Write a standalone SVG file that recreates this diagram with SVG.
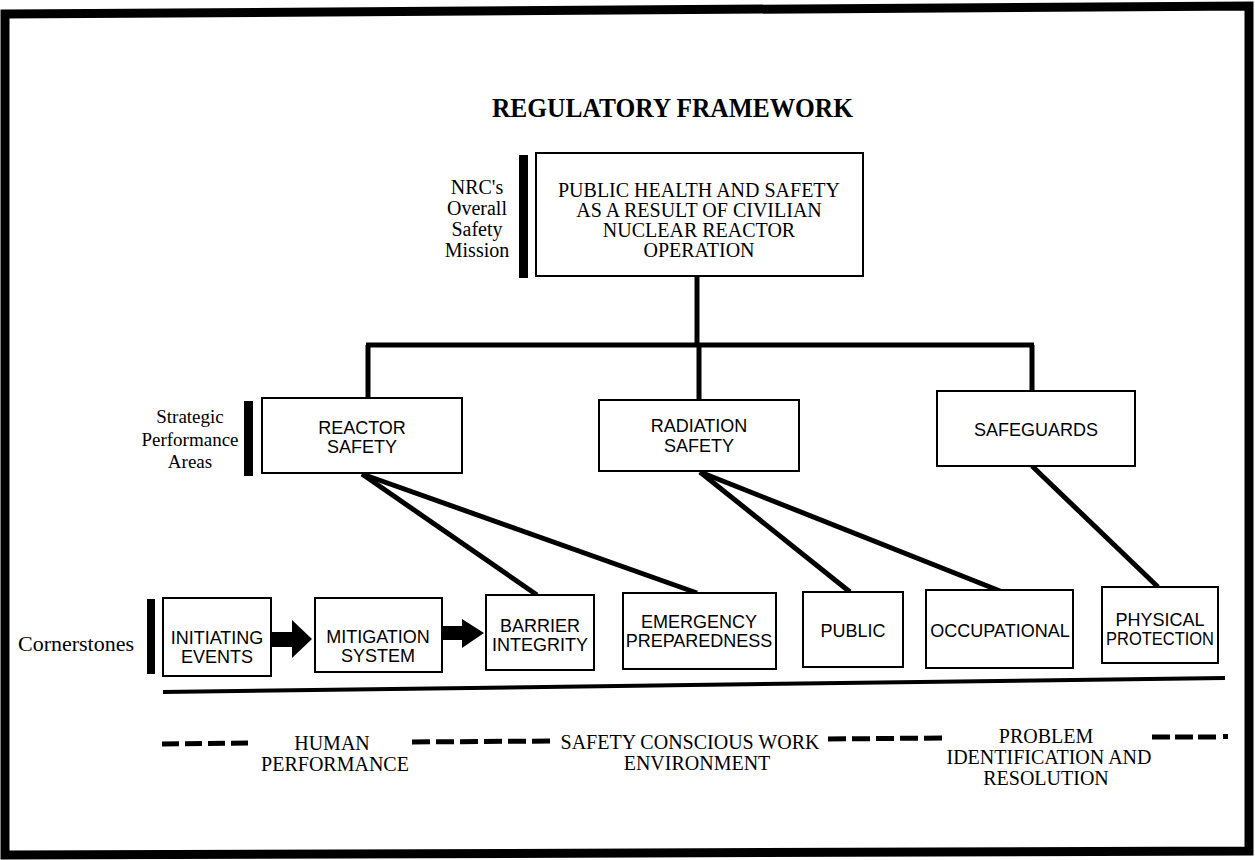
<svg xmlns="http://www.w3.org/2000/svg" width="1255" height="860" viewBox="0 0 1255 860">
<style>
.box{fill:#fff;stroke:#000;stroke-width:2}
.bar{fill:#000}
.serif{font-family:"Liberation Serif","Times New Roman",serif;fill:#000}
.sans{font-family:"Liberation Sans",Arial,sans-serif;fill:#000;font-size:18px;text-anchor:middle}
.conn{stroke:#000;stroke-width:5;fill:none;stroke-linecap:butt}
.dash{stroke:#000;stroke-width:5;fill:none}
.lbl{font-size:20px;text-anchor:middle}
</style>
<rect width="1255" height="860" fill="#fff"/>
<polygon points="5,14 1249,6 1249,851 5,855" fill="none" stroke="#000" stroke-width="9"/>

<text class="serif" x="492" y="117" font-size="28" font-weight="bold" textLength="361" lengthAdjust="spacingAndGlyphs">REGULATORY FRAMEWORK</text>

<g id="connectors">
  <line class="conn" x1="697" y1="276" x2="697" y2="347"/>
  <line class="conn" x1="366" y1="345" x2="1034" y2="345"/>
  <line class="conn" x1="368" y1="345" x2="368" y2="398"/>
  <line class="conn" x1="699" y1="345" x2="699" y2="400"/>
  <line class="conn" x1="1032" y1="345" x2="1032" y2="391"/>
  <line class="conn" x1="362" y1="474" x2="537" y2="595"/>
  <line class="conn" x1="362" y1="474" x2="697" y2="593"/>
  <line class="conn" x1="700" y1="472" x2="850" y2="592"/>
  <line class="conn" x1="700" y1="472" x2="1000" y2="591"/>
  <line class="conn" x1="1032" y1="466" x2="1158" y2="587"/>
  <polygon points="271,632 292,632 292,620 312,639 292,658 292,647 271,647" fill="#000"/>
  <polygon points="442,626 462,626 462,619 484,633 462,648 462,640 442,640" fill="#000"/>
</g>

<g id="mission-label">
  <rect class="bar" x="519" y="155" width="9" height="123"/>
  <text class="serif lbl" font-size="21"><tspan x="477" y="194">NRC's</tspan><tspan x="477" y="215">Overall</tspan><tspan x="477" y="236">Safety</tspan><tspan x="477" y="257">Mission</tspan></text>
</g>

<g id="mission">
  <rect class="box" x="536" y="153" width="327" height="123"/>
  <text class="serif lbl"><tspan x="699" y="197">PUBLIC HEALTH AND SAFETY</tspan><tspan x="699" y="217">AS A RESULT OF CIVILIAN</tspan><tspan x="699" y="237">NUCLEAR REACTOR</tspan><tspan x="699" y="257">OPERATION</tspan></text>
</g>

<g id="spa-label">
  <rect class="bar" x="244" y="401" width="9" height="75"/>
  <text class="serif" font-size="19" text-anchor="middle"><tspan x="190" y="423">Strategic</tspan><tspan x="190" y="446">Performance</tspan><tspan x="190" y="468">Areas</tspan></text>
</g>

<g id="reactor-safety">
  <rect class="box" x="262" y="398" width="200" height="75"/>
  <text class="sans"><tspan x="362" y="434">REACTOR</tspan><tspan x="362" y="453">SAFETY</tspan></text>
</g>

<g id="radiation-safety">
  <rect class="box" x="599" y="400" width="200" height="71"/>
  <text class="sans"><tspan x="699" y="432">RADIATION</tspan><tspan x="699" y="452">SAFETY</tspan></text>
</g>

<g id="safeguards">
  <rect class="box" x="937" y="391" width="198" height="75"/>
  <text class="sans" x="1036" y="436">SAFEGUARDS</text>
</g>

<g id="cornerstones-label">
  <rect class="bar" x="147" y="599" width="8" height="75"/>
  <text class="serif" font-size="22" x="76" y="651" text-anchor="middle">Cornerstones</text>
</g>

<g id="initiating-events">
  <rect class="box" x="163" y="598" width="108" height="78"/>
  <text class="sans"><tspan x="217" y="644">INITIATING</tspan><tspan x="217" y="663">EVENTS</tspan></text>
</g>

<g id="mitigation-system">
  <rect class="box" x="315" y="598" width="127" height="74"/>
  <text class="sans"><tspan x="378" y="643">MITIGATION</tspan><tspan x="378" y="662">SYSTEM</tspan></text>
</g>

<g id="barrier-integrity">
  <rect class="box" x="486" y="595" width="108" height="75"/>
  <text class="sans"><tspan x="540" y="632">BARRIER</tspan><tspan x="540" y="651">INTEGRITY</tspan></text>
</g>

<g id="emergency-preparedness">
  <rect class="box" x="623" y="593" width="153" height="76"/>
  <text class="sans"><tspan x="699" y="628">EMERGENCY</tspan><tspan x="699" y="647">PREPAREDNESS</tspan></text>
</g>

<g id="public">
  <rect class="box" x="803" y="592" width="100" height="75"/>
  <text class="sans" x="853" y="637">PUBLIC</text>
</g>

<g id="occupational">
  <rect class="box" x="926" y="590" width="147" height="78"/>
  <text class="sans" x="1000" y="637">OCCUPATIONAL</text>
</g>

<g id="physical-protection">
  <rect class="box" x="1102" y="587" width="116" height="76"/>
  <text class="sans" font-size="17"><tspan x="1160" y="626">PHYSICAL</tspan><tspan x="1160" y="645" textLength="108" lengthAdjust="spacingAndGlyphs">PROTECTION</tspan></text>
</g>

<line x1="163" y1="692" x2="1225" y2="678" stroke="#000" stroke-width="4"/>

<g id="cross-cutting">
  <line class="dash" x1="162" y1="744" x2="248" y2="743" stroke-dasharray="17 6"/>
  <line class="dash" x1="412" y1="742" x2="550" y2="741" stroke-dasharray="18 6"/>
  <line class="dash" x1="828" y1="739" x2="942" y2="738" stroke-dasharray="18 6"/>
  <line class="dash" x1="1152" y1="737" x2="1216" y2="737" stroke-dasharray="18 5"/>
  <rect x="1223" y="734" width="5" height="5" fill="#000"/>
  <text class="serif lbl"><tspan x="332" y="750">HUMAN</tspan><tspan x="335" y="771">PERFORMANCE</tspan></text>
  <text class="serif lbl"><tspan x="690" y="749">SAFETY CONSCIOUS WORK</tspan><tspan x="697" y="770">ENVIRONMENT</tspan></text>
  <text class="serif lbl"><tspan x="1046" y="743">PROBLEM</tspan><tspan x="1049" y="764">IDENTIFICATION AND</tspan><tspan x="1046" y="785">RESOLUTION</tspan></text>
</g>
</svg>
